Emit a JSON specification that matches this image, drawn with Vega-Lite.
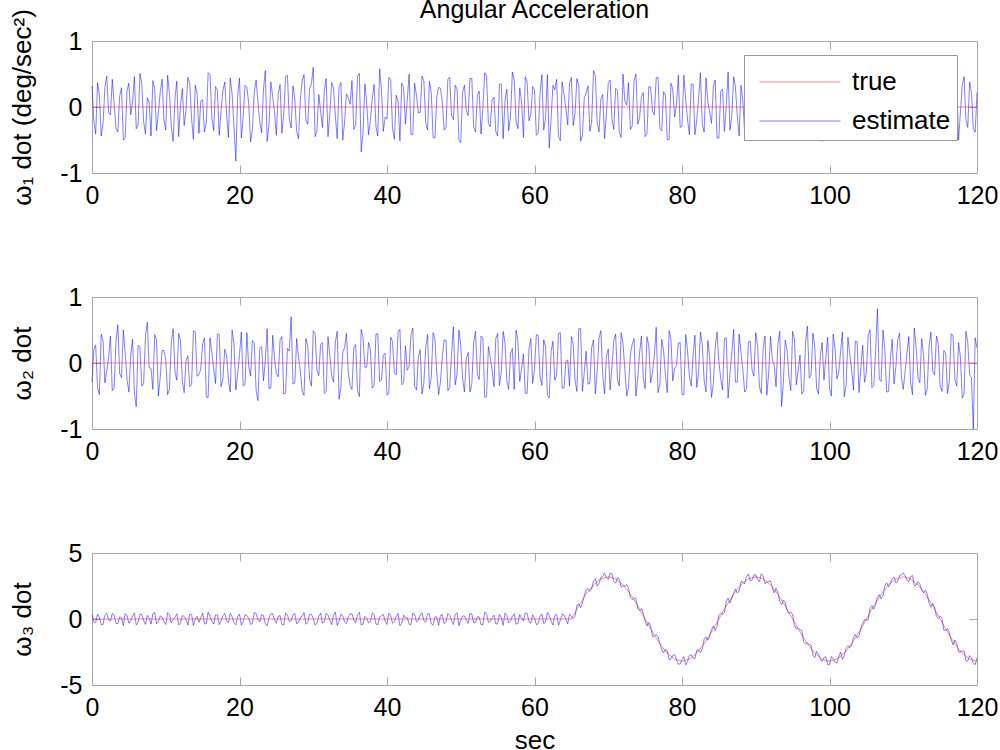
{
  "$schema": "https://vega.github.io/schema/vega-lite/v6.json",
  "padding": {"left": 9, "top": -3, "right": 10, "bottom": 5},
  "background": "white",
  "config": {
    "font": "Liberation Sans",
    "view": {"stroke": "#a8a8a8", "strokeWidth": 1},
    "axis": {
      "grid": false, "domain": false, "tickColor": "#a8a8a8", "tickSize": -8,
      "labelFont": "Liberation Sans", "labelFontSize": 25, "labelColor": "#000000",
      "titleFont": "Liberation Sans", "titleFontSize": 26, "titleFontWeight": "normal", "titleColor": "#000000",
      "labelFlush": false, "labelExpr": "'' + datum.value"
    },
    "axisX": {"labelPadding": 18, "titlePadding": 7},
    "axisY": {"labelPadding": 18, "titlePadding": 24}
  },
  "datasets": {
    "p1": [
      {"t":0,"v":0.32},{"t":0.5,"v":-0.41},{"t":1,"v":0.18},{"t":1.5,"v":-0.25},{"t":2,"v":0.47},{"t":2.5,"v":-0.12},{"t":3,"v":0.05},{"t":3.5,"v":-0.38},{"t":4,"v":0.29},{"t":4.5,"v":-0.47},
      {"t":5,"v":0.36},{"t":5.5,"v":0.08},{"t":6,"v":-0.33},{"t":6.5,"v":0.51},{"t":7,"v":-0.22},{"t":7.5,"v":0.14},{"t":8,"v":-0.44},{"t":8.5,"v":0.27},{"t":9,"v":-0.09},{"t":9.5,"v":0.42},
      {"t":10,"v":-0.35},{"t":10.5,"v":0.21},{"t":11,"v":-0.52},{"t":11.5,"v":0.39},{"t":12,"v":0.02},{"t":12.5,"v":-0.28},{"t":13,"v":0.45},{"t":13.5,"v":-0.17},{"t":14,"v":0.33},{"t":14.5,"v":-0.40},
      {"t":15,"v":0.11},{"t":15.5,"v":-0.24},{"t":16,"v":0.49},{"t":16.5,"v":-0.36},{"t":17,"v":0.26},{"t":17.5,"v":-0.05},{"t":18,"v":0.38},{"t":18.5,"v":-0.46},{"t":19,"v":0.19},{"t":19.5,"v":-0.82},
      {"t":20,"v":0.44},{"t":20.5,"v":-0.15},{"t":21,"v":0.30},{"t":21.5,"v":-0.53},{"t":22,"v":0.23},{"t":22.5,"v":0.07},{"t":23,"v":-0.39},{"t":23.5,"v":0.55},{"t":24,"v":-0.27},{"t":24.5,"v":0.16},
      {"t":25,"v":-0.43},{"t":25.5,"v":0.34},{"t":26,"v":-0.10},{"t":26.5,"v":0.48},{"t":27,"v":-0.32},{"t":27.5,"v":0.12},{"t":28,"v":-0.48},{"t":28.5,"v":0.40},{"t":29,"v":-0.20},{"t":29.5,"v":0.28},
      {"t":30,"v":0.60},{"t":30.5,"v":-0.37},{"t":31,"v":-0.06},{"t":31.5,"v":0.25},{"t":32,"v":-0.45},{"t":32.5,"v":0.37},{"t":33,"v":-0.14},{"t":33.5,"v":0.31},{"t":34,"v":-0.50},{"t":34.5,"v":0.20},
      {"t":35,"v":0.04},{"t":35.5,"v":-0.34},{"t":36,"v":0.46},{"t":36.5,"v":-0.68},{"t":37,"v":0.35},{"t":37.5,"v":-0.42},{"t":38,"v":0.13},{"t":38.5,"v":-0.29},{"t":39,"v":0.58},{"t":39.5,"v":-0.37},
      {"t":40,"v":-0.18},{"t":40.5,"v":0.41},{"t":41,"v":-0.49},{"t":41.5,"v":0.09},{"t":42,"v":0.36},{"t":42.5,"v":-0.26},{"t":43,"v":0.50},{"t":43.5,"v":-0.41},{"t":44,"v":0.17},{"t":44.5,"v":-0.08},
      {"t":45,"v":0.39},{"t":45.5,"v":-0.35},{"t":46,"v":0.22},{"t":46.5,"v":-0.47},{"t":47,"v":0.30},{"t":47.5,"v":0.06},{"t":48,"v":-0.31},{"t":48.5,"v":0.45},{"t":49,"v":-0.19},{"t":49.5,"v":0.27},
      {"t":50,"v":-0.54},{"t":50.5,"v":0.33},{"t":51,"v":-0.13},{"t":51.5,"v":0.43},{"t":52,"v":-0.38},{"t":52.5,"v":0.24},{"t":53,"v":-0.02},{"t":53.5,"v":0.47},{"t":54,"v":-0.30},{"t":54.5,"v":0.15},
      {"t":55,"v":-0.44},{"t":55.5,"v":0.35},{"t":56,"v":0.10},{"t":56.5,"v":-0.36},{"t":57,"v":0.53},{"t":57.5,"v":-0.21},{"t":58,"v":0.29},{"t":58.5,"v":-0.46},{"t":59,"v":0.38},{"t":59.5,"v":-0.11},
      {"t":60,"v":0.26},{"t":60.5,"v":-0.40},{"t":61,"v":0.49},{"t":61.5,"v":-0.16},{"t":62,"v":-0.62},{"t":62.5,"v":0.33},{"t":63,"v":0.42},{"t":63.5,"v":-0.51},{"t":64,"v":0.19},{"t":64.5,"v":-0.27},
      {"t":65,"v":0.45},{"t":65.5,"v":-0.09},{"t":66,"v":0.32},{"t":66.5,"v":-0.43},{"t":67,"v":0.21},{"t":67.5,"v":-0.37},{"t":68,"v":0.55},{"t":68.5,"v":-0.24},{"t":69,"v":0.12},{"t":69.5,"v":-0.48},
      {"t":70,"v":0.37},{"t":70.5,"v":-0.18},{"t":71,"v":0.28},{"t":71.5,"v":-0.39},{"t":72,"v":0.50},{"t":72.5,"v":0.03},{"t":73,"v":-0.34},{"t":73.5,"v":0.40},{"t":74,"v":-0.26},{"t":74.5,"v":0.16},
      {"t":75,"v":-0.45},{"t":75.5,"v":0.31},{"t":76,"v":-0.07},{"t":76.5,"v":0.44},{"t":77,"v":-0.32},{"t":77.5,"v":0.23},{"t":78,"v":-0.50},{"t":78.5,"v":0.36},{"t":79,"v":-0.15},{"t":79.5,"v":0.48},
      {"t":80,"v":-0.29},{"t":80.5,"v":0.11},{"t":81,"v":-0.42},{"t":81.5,"v":0.34},{"t":82,"v":-0.20},{"t":82.5,"v":0.52},{"t":83,"v":-0.38},{"t":83.5,"v":0.08},{"t":84,"v":-0.25},{"t":84.5,"v":0.41},
      {"t":85,"v":-0.47},{"t":85.5,"v":0.27},{"t":86,"v":0.01},{"t":86.5,"v":-0.35},{"t":87,"v":0.46},{"t":87.5,"v":-0.14},{"t":88,"v":0.33},{"t":88.5,"v":-0.41},{"t":89,"v":0.22},{"t":89.5,"v":-0.30},
      {"t":90,"v":0.51},{"t":90.5,"v":-0.23},{"t":91,"v":0.14},{"t":91.5,"v":-0.49},{"t":92,"v":0.39},{"t":92.5,"v":-0.06},{"t":93,"v":0.28},{"t":93.5,"v":-0.44},{"t":94,"v":0.35},{"t":94.5,"v":-0.12},
      {"t":95,"v":0.43},{"t":95.5,"v":-0.36},{"t":96,"v":0.20},{"t":96.5,"v":-0.28},{"t":97,"v":0.72},{"t":97.5,"v":-0.40},{"t":98,"v":0.09},{"t":98.5,"v":0.32},{"t":99,"v":-0.52},{"t":99.5,"v":0.25},
      {"t":100,"v":-0.17},{"t":100.5,"v":0.38},{"t":101,"v":-0.45},{"t":101.5,"v":0.13},{"t":102,"v":0.49},{"t":102.5,"v":-0.31},{"t":103,"v":0.24},{"t":103.5,"v":-0.38},{"t":104,"v":0.05},{"t":104.5,"v":0.42},
      {"t":105,"v":-0.26},{"t":105.5,"v":0.33},{"t":106,"v":-0.48},{"t":106.5,"v":0.18},{"t":107,"v":-0.10},{"t":107.5,"v":0.45},{"t":108,"v":-0.35},{"t":108.5,"v":0.29},{"t":109,"v":-0.43},{"t":109.5,"v":0.21},
      {"t":110,"v":0.36},{"t":110.5,"v":-0.22},{"t":111,"v":0.50},{"t":111.5,"v":-0.37},{"t":112,"v":0.15},{"t":112.5,"v":-0.46},{"t":113,"v":0.31},{"t":113.5,"v":-0.08},{"t":114,"v":0.40},{"t":114.5,"v":-0.29},
      {"t":115,"v":0.19},{"t":115.5,"v":-0.41},{"t":116,"v":0.47},{"t":116.5,"v":-0.14},{"t":117,"v":0.27},{"t":117.5,"v":-0.50},{"t":118,"v":0.34},{"t":118.5,"v":-0.20},{"t":119,"v":0.38},{"t":119.5,"v":-0.33},
      {"t":120,"v":0.22},
      {"t":0.25,"v":-0.21},{"t":0.75,"v":0.37},{"t":1.25,"v":-0.44},{"t":1.75,"v":0.30},{"t":2.25,"v":-0.08},{"t":2.75,"v":0.42},{"t":3.25,"v":-0.33},{"t":3.75,"v":0.16},{"t":4.25,"v":-0.50},{"t":4.75,"v":0.25},
      {"t":5.25,"v":-0.12},{"t":5.75,"v":0.46},{"t":6.25,"v":-0.27},{"t":6.75,"v":0.35},{"t":7.25,"v":-0.41},{"t":7.75,"v":0.07},{"t":8.25,"v":0.40},{"t":8.75,"v":-0.36},{"t":9.25,"v":0.22},{"t":9.75,"v":-0.19},
      {"t":10.25,"v":0.48},{"t":10.75,"v":-0.30},{"t":11.25,"v":0.13},{"t":11.75,"v":-0.45},{"t":12.25,"v":0.28},{"t":12.75,"v":-0.04},{"t":13.25,"v":0.36},{"t":13.75,"v":-0.49},{"t":14.25,"v":0.20},{"t":14.75,"v":0.09},
      {"t":15.25,"v":-0.38},{"t":15.75,"v":0.52},{"t":16.25,"v":-0.16},{"t":16.75,"v":0.31},{"t":17.25,"v":-0.43},{"t":17.75,"v":0.24},{"t":18.25,"v":-0.11},{"t":18.75,"v":0.44},{"t":19.25,"v":-0.29},{"t":19.75,"v":0.17},
      {"t":20.25,"v":-0.47},{"t":20.75,"v":0.33},{"t":21.25,"v":0.05},{"t":21.75,"v":-0.34},{"t":22.25,"v":0.41},{"t":22.75,"v":-0.22},{"t":23.25,"v":0.27},{"t":23.75,"v":-0.52},{"t":24.25,"v":0.38},{"t":24.75,"v":-0.07},
      {"t":25.25,"v":0.21},{"t":25.75,"v":-0.40},{"t":26.25,"v":0.46},{"t":26.75,"v":-0.18},{"t":27.25,"v":0.32},{"t":27.75,"v":-0.37},{"t":28.25,"v":0.12},{"t":28.75,"v":0.49},{"t":29.25,"v":-0.26},{"t":29.75,"v":0.35},
      {"t":30.25,"v":-0.45},{"t":30.75,"v":0.19},{"t":31.25,"v":-0.31},{"t":31.75,"v":0.43},{"t":32.25,"v":-0.10},{"t":32.75,"v":0.29},{"t":33.25,"v":-0.48},{"t":33.75,"v":0.37},{"t":34.25,"v":-0.23},{"t":34.75,"v":0.14},
      {"t":35.25,"v":0.40},{"t":35.75,"v":-0.28},{"t":36.25,"v":0.51},{"t":36.75,"v":-0.39},{"t":37.25,"v":0.06},{"t":37.75,"v":-0.20},{"t":38.25,"v":0.34},{"t":38.75,"v":-0.44},{"t":39.25,"v":0.26},{"t":39.75,"v":-0.15},
      {"t":40.25,"v":0.45},{"t":40.75,"v":-0.32},{"t":41.25,"v":0.18},{"t":41.75,"v":-0.51},{"t":42.25,"v":0.30},{"t":42.75,"v":0.11},{"t":43.25,"v":-0.42},{"t":43.75,"v":0.36},{"t":44.25,"v":-0.09},{"t":44.75,"v":0.47},
      {"t":45.25,"v":-0.24},{"t":45.75,"v":0.39},{"t":46.25,"v":-0.46},{"t":46.75,"v":0.15},{"t":47.25,"v":0.28},{"t":47.75,"v":-0.35},{"t":48.25,"v":0.42},{"t":48.75,"v":-0.13},{"t":49.25,"v":0.33},{"t":49.75,"v":-0.50},
      {"t":50.25,"v":0.23},{"t":50.75,"v":-0.06},{"t":51.25,"v":0.44},{"t":51.75,"v":-0.30},{"t":52.25,"v":0.17},{"t":52.75,"v":-0.41},{"t":53.25,"v":0.52},{"t":53.75,"v":-0.25},{"t":54.25,"v":0.10},{"t":54.75,"v":-0.37},
      {"t":55.25,"v":0.34},{"t":55.75,"v":-0.48},{"t":56.25,"v":0.27},{"t":56.75,"v":-0.14},{"t":57.25,"v":0.40},{"t":57.75,"v":-0.33},{"t":58.25,"v":0.08},{"t":58.75,"v":0.46},{"t":59.25,"v":-0.21},{"t":59.75,"v":0.31},
      {"t":60.25,"v":-0.43},{"t":60.75,"v":0.20},{"t":61.25,"v":-0.35},{"t":61.75,"v":0.49},{"t":62.25,"v":-0.17},{"t":62.75,"v":0.26},{"t":63.25,"v":-0.45},{"t":63.75,"v":0.38},{"t":64.25,"v":-0.02},{"t":64.75,"v":0.35},
      {"t":65.25,"v":-0.28},{"t":65.75,"v":0.43},{"t":66.25,"v":-0.52},{"t":66.75,"v":0.14},{"t":67.25,"v":0.32},{"t":67.75,"v":-0.23},{"t":68.25,"v":0.47},{"t":68.75,"v":-0.38},{"t":69.25,"v":0.19},{"t":69.75,"v":-0.11},
      {"t":70.25,"v":0.41},{"t":70.75,"v":-0.34},{"t":71.25,"v":0.25},{"t":71.75,"v":-0.46},{"t":72.25,"v":0.09},{"t":72.75,"v":0.37},{"t":73.25,"v":-0.29},{"t":73.75,"v":0.50},{"t":74.25,"v":-0.16},{"t":74.75,"v":0.22},
      {"t":75.25,"v":-0.40},{"t":75.75,"v":0.30},{"t":76.25,"v":-0.12},{"t":76.75,"v":0.45},{"t":77.25,"v":-0.36},{"t":77.75,"v":0.18},{"t":78.25,"v":-0.49},{"t":78.75,"v":0.27},{"t":79.25,"v":0.04},{"t":79.75,"v":-0.31},
      {"t":80.25,"v":0.48},{"t":80.75,"v":-0.19},{"t":81.25,"v":0.35},{"t":81.75,"v":-0.42},{"t":82.25,"v":0.13},{"t":82.75,"v":-0.27},{"t":83.25,"v":0.44},{"t":83.75,"v":-0.08},{"t":84.25,"v":0.31},{"t":84.75,"v":-0.47},
      {"t":85.25,"v":0.24},{"t":85.75,"v":-0.37},{"t":86.25,"v":0.53},{"t":86.75,"v":-0.15},{"t":87.25,"v":0.29},{"t":87.75,"v":-0.44},{"t":88.25,"v":0.10},{"t":88.75,"v":0.39},{"t":89.25,"v":-0.33},{"t":89.75,"v":0.20},
      {"t":90.25,"v":-0.26},{"t":90.75,"v":0.46},{"t":91.25,"v":-0.41},{"t":91.75,"v":0.16},{"t":92.25,"v":-0.05},{"t":92.75,"v":0.36},{"t":93.25,"v":-0.48},{"t":93.75,"v":0.28},{"t":94.25,"v":-0.19},{"t":94.75,"v":0.42},
      {"t":95.25,"v":-0.35},{"t":95.75,"v":0.12},{"t":96.25,"v":0.47},{"t":96.75,"v":-0.30},{"t":97.25,"v":0.23},{"t":97.75,"v":-0.45},{"t":98.25,"v":0.38},{"t":98.75,"v":-0.10},{"t":99.25,"v":0.26},{"t":99.75,"v":-0.39},
      {"t":100.25,"v":0.50},{"t":100.75,"v":-0.22},{"t":101.25,"v":0.15},{"t":101.75,"v":-0.47},{"t":102.25,"v":0.34},{"t":102.75,"v":-0.13},{"t":103.25,"v":0.41},{"t":103.75,"v":-0.32},{"t":104.25,"v":0.07},{"t":104.75,"v":0.29},
      {"t":105.25,"v":-0.43},{"t":105.75,"v":0.37},{"t":106.25,"v":-0.18},{"t":106.75,"v":0.25},{"t":107.25,"v":-0.50},{"t":107.75,"v":0.44},{"t":108.25,"v":-0.06},{"t":108.75,"v":0.32},{"t":109.25,"v":-0.36},{"t":109.75,"v":0.21},
      {"t":110.25,"v":0.13},{"t":110.75,"v":-0.40},{"t":111.25,"v":0.48},{"t":111.75,"v":-0.24},{"t":112.25,"v":0.30},{"t":112.75,"v":-0.12},{"t":113.25,"v":0.39},{"t":113.75,"v":-0.47},{"t":114.25,"v":0.18},{"t":114.75,"v":-0.28},
      {"t":115.25,"v":0.43},{"t":115.75,"v":-0.15},{"t":116.25,"v":0.27},{"t":116.75,"v":-0.42},{"t":117.25,"v":0.35},{"t":117.75,"v":-0.09},{"t":118.25,"v":0.46},{"t":118.75,"v":-0.31},{"t":119.25,"v":0.22},{"t":119.75,"v":-0.38}
    ],
    "p2": [
      {"t":0,"v":-0.29},{"t":0.5,"v":0.27},{"t":1,"v":-0.48},{"t":1.5,"v":0.33},{"t":2,"v":-0.12},{"t":2.5,"v":0.41},{"t":3,"v":-0.37},{"t":3.5,"v":0.58},{"t":4,"v":-0.22},{"t":4.5,"v":0.15},
      {"t":5,"v":-0.44},{"t":5.5,"v":0.36},{"t":6,"v":-0.66},{"t":6.5,"v":0.24},{"t":7,"v":-0.31},{"t":7.5,"v":0.62},{"t":8,"v":-0.08},{"t":8.5,"v":0.43},{"t":9,"v":-0.50},{"t":9.5,"v":0.19},
      {"t":10,"v":0.06},{"t":10.5,"v":-0.40},{"t":11,"v":0.52},{"t":11.5,"v":-0.26},{"t":12,"v":0.34},{"t":12.5,"v":-0.45},{"t":13,"v":0.11},{"t":13.5,"v":-0.33},{"t":14,"v":0.47},{"t":14.5,"v":-0.18},
      {"t":15,"v":0.29},{"t":15.5,"v":-0.52},{"t":16,"v":0.38},{"t":16.5,"v":-0.09},{"t":17,"v":0.44},{"t":17.5,"v":-0.36},{"t":18,"v":0.21},{"t":18.5,"v":-0.27},{"t":19,"v":0.50},{"t":19.5,"v":-0.41},
      {"t":20,"v":0.13},{"t":20.5,"v":-0.35},{"t":21,"v":0.46},{"t":21.5,"v":-0.20},{"t":22,"v":0.30},{"t":22.5,"v":-0.57},{"t":23,"v":0.25},{"t":23.5,"v":0.04},{"t":24,"v":-0.39},{"t":24.5,"v":0.42},
      {"t":25,"v":-0.16},{"t":25.5,"v":0.35},{"t":26,"v":-0.47},{"t":26.5,"v":0.22},{"t":27,"v":0.70},{"t":27.5,"v":-0.30},{"t":28,"v":0.09},{"t":28.5,"v":-0.43},{"t":29,"v":0.37},{"t":29.5,"v":-0.24},
      {"t":30,"v":0.49},{"t":30.5,"v":-0.11},{"t":31,"v":0.28},{"t":31.5,"v":-0.46},{"t":32,"v":0.40},{"t":32.5,"v":-0.19},{"t":33,"v":0.32},{"t":33.5,"v":-0.55},{"t":34,"v":0.17},{"t":34.5,"v":0.45},
      {"t":35,"v":-0.34},{"t":35.5,"v":0.23},{"t":36,"v":-0.42},{"t":36.5,"v":0.51},{"t":37,"v":-0.07},{"t":37.5,"v":0.31},{"t":38,"v":-0.38},{"t":38.5,"v":0.44},{"t":39,"v":-0.28},{"t":39.5,"v":0.12},
      {"t":40,"v":-0.49},{"t":40.5,"v":0.39},{"t":41,"v":-0.15},{"t":41.5,"v":0.47},{"t":42,"v":-0.33},{"t":42.5,"v":0.26},{"t":43,"v":-0.05},{"t":43.5,"v":0.53},{"t":44,"v":-0.41},{"t":44.5,"v":0.20},
      {"t":45,"v":-0.30},{"t":45.5,"v":0.43},{"t":46,"v":-0.21},{"t":46.5,"v":0.36},{"t":47,"v":-0.48},{"t":47.5,"v":0.10},{"t":48,"v":0.34},{"t":48.5,"v":-0.37},{"t":49,"v":0.55},{"t":49.5,"v":-0.17},
      {"t":50,"v":0.27},{"t":50.5,"v":-0.44},{"t":51,"v":0.16},{"t":51.5,"v":-0.32},{"t":52,"v":0.48},{"t":52.5,"v":-0.25},{"t":53,"v":0.38},{"t":53.5,"v":-0.51},{"t":54,"v":0.08},{"t":54.5,"v":-0.36},
      {"t":55,"v":0.45},{"t":55.5,"v":-0.13},{"t":56,"v":0.31},{"t":56.5,"v":-0.40},{"t":57,"v":0.22},{"t":57.5,"v":0.50},{"t":58,"v":-0.28},{"t":58.5,"v":0.14},{"t":59,"v":-0.46},{"t":59.5,"v":0.37},
      {"t":60,"v":-0.10},{"t":60.5,"v":0.42},{"t":61,"v":-0.34},{"t":61.5,"v":0.25},{"t":62,"v":-0.53},{"t":62.5,"v":0.33},{"t":63,"v":-0.19},{"t":63.5,"v":0.46},{"t":64,"v":-0.38},{"t":64.5,"v":0.05},
      {"t":65,"v":0.40},{"t":65.5,"v":-0.27},{"t":66,"v":0.52},{"t":66.5,"v":-0.43},{"t":67,"v":0.18},{"t":67.5,"v":-0.31},{"t":68,"v":0.35},{"t":68.5,"v":-0.12},{"t":69,"v":0.49},{"t":69.5,"v":-0.47},
      {"t":70,"v":0.21},{"t":70.5,"v":-0.06},{"t":71,"v":0.44},{"t":71.5,"v":-0.35},{"t":72,"v":0.29},{"t":72.5,"v":-0.50},{"t":73,"v":0.13},{"t":73.5,"v":0.37},{"t":74,"v":-0.23},{"t":74.5,"v":0.41},
      {"t":75,"v":-0.39},{"t":75.5,"v":0.26},{"t":76,"v":-0.14},{"t":76.5,"v":0.54},{"t":77,"v":-0.32},{"t":77.5,"v":0.19},{"t":78,"v":-0.45},{"t":78.5,"v":0.36},{"t":79,"v":-0.08},{"t":79.5,"v":0.30},
      {"t":80,"v":-0.48},{"t":80.5,"v":0.43},{"t":81,"v":-0.20},{"t":81.5,"v":0.11},{"t":82,"v":-0.37},{"t":82.5,"v":0.47},{"t":83,"v":-0.26},{"t":83.5,"v":0.34},{"t":84,"v":-0.52},{"t":84.5,"v":0.24},
      {"t":85,"v":0.02},{"t":85.5,"v":-0.41},{"t":86,"v":0.38},{"t":86.5,"v":-0.17},{"t":87,"v":0.51},{"t":87.5,"v":-0.29},{"t":88,"v":0.15},{"t":88.5,"v":-0.44},{"t":89,"v":0.32},{"t":89.5,"v":-0.11},
      {"t":90,"v":0.46},{"t":90.5,"v":-0.36},{"t":91,"v":0.22},{"t":91.5,"v":-0.49},{"t":92,"v":0.40},{"t":92.5,"v":-0.03},{"t":93,"v":0.28},{"t":93.5,"v":-0.66},{"t":94,"v":0.35},{"t":94.5,"v":-0.21},
      {"t":95,"v":0.48},{"t":95.5,"v":-0.33},{"t":96,"v":0.12},{"t":96.5,"v":-0.42},{"t":97,"v":0.56},{"t":97.5,"v":-0.18},{"t":98,"v":0.25},{"t":98.5,"v":-0.47},{"t":99,"v":0.31},{"t":99.5,"v":0.07},
      {"t":100,"v":-0.38},{"t":100.5,"v":0.44},{"t":101,"v":-0.24},{"t":101.5,"v":0.17},{"t":102,"v":-0.51},{"t":102.5,"v":0.39},{"t":103,"v":-0.10},{"t":103.5,"v":0.33},{"t":104,"v":-0.45},{"t":104.5,"v":0.27},
      {"t":105,"v":-0.15},{"t":105.5,"v":0.50},{"t":106,"v":-0.34},{"t":106.5,"v":0.82},{"t":107,"v":-0.28},{"t":107.5,"v":0.20},{"t":108,"v":-0.43},{"t":108.5,"v":0.36},{"t":109,"v":-0.06},{"t":109.5,"v":0.45},
      {"t":110,"v":-0.40},{"t":110.5,"v":0.14},{"t":111,"v":-0.30},{"t":111.5,"v":0.53},{"t":112,"v":-0.22},{"t":112.5,"v":0.37},{"t":113,"v":-0.49},{"t":113.5,"v":0.26},{"t":114,"v":-0.12},{"t":114.5,"v":0.41},
      {"t":115,"v":-0.35},{"t":115.5,"v":0.19},{"t":116,"v":-0.46},{"t":116.5,"v":0.44},{"t":117,"v":-0.25},{"t":117.5,"v":0.31},{"t":118,"v":-0.53},{"t":118.5,"v":0.48},{"t":119,"v":-0.18},{"t":119.5,"v":-1.00},
      {"t":120,"v":0.23},
      {"t":0.25,"v":0.21},{"t":0.75,"v":-0.37},{"t":1.25,"v":0.44},{"t":1.75,"v":-0.30},{"t":2.25,"v":0.08},{"t":2.75,"v":-0.42},{"t":3.25,"v":0.33},{"t":3.75,"v":-0.16},{"t":4.25,"v":0.50},{"t":4.75,"v":-0.25},
      {"t":5.25,"v":0.12},{"t":5.75,"v":-0.46},{"t":6.25,"v":0.27},{"t":6.75,"v":-0.35},{"t":7.25,"v":0.41},{"t":7.75,"v":-0.07},{"t":8.25,"v":-0.40},{"t":8.75,"v":0.36},{"t":9.25,"v":-0.22},{"t":9.75,"v":0.19},
      {"t":10.25,"v":-0.48},{"t":10.75,"v":0.30},{"t":11.25,"v":-0.13},{"t":11.75,"v":0.45},{"t":12.25,"v":-0.28},{"t":12.75,"v":0.04},{"t":13.25,"v":-0.36},{"t":13.75,"v":0.49},{"t":14.25,"v":-0.20},{"t":14.75,"v":-0.09},
      {"t":15.25,"v":0.38},{"t":15.75,"v":-0.52},{"t":16.25,"v":0.16},{"t":16.75,"v":-0.31},{"t":17.25,"v":0.43},{"t":17.75,"v":-0.24},{"t":18.25,"v":0.11},{"t":18.75,"v":-0.44},{"t":19.25,"v":0.29},{"t":19.75,"v":-0.17},
      {"t":20.25,"v":0.47},{"t":20.75,"v":-0.33},{"t":21.25,"v":-0.05},{"t":21.75,"v":0.34},{"t":22.25,"v":-0.41},{"t":22.75,"v":0.22},{"t":23.25,"v":-0.27},{"t":23.75,"v":0.52},{"t":24.25,"v":-0.38},{"t":24.75,"v":0.07},
      {"t":25.25,"v":-0.21},{"t":25.75,"v":0.40},{"t":26.25,"v":-0.46},{"t":26.75,"v":0.18},{"t":27.25,"v":-0.32},{"t":27.75,"v":0.37},{"t":28.25,"v":-0.12},{"t":28.75,"v":-0.49},{"t":29.25,"v":0.26},{"t":29.75,"v":-0.35},
      {"t":30.25,"v":0.45},{"t":30.75,"v":-0.19},{"t":31.25,"v":0.31},{"t":31.75,"v":-0.43},{"t":32.25,"v":0.10},{"t":32.75,"v":-0.29},{"t":33.25,"v":0.48},{"t":33.75,"v":-0.37},{"t":34.25,"v":0.23},{"t":34.75,"v":-0.14},
      {"t":35.25,"v":-0.40},{"t":35.75,"v":0.28},{"t":36.25,"v":-0.51},{"t":36.75,"v":0.39},{"t":37.25,"v":-0.06},{"t":37.75,"v":0.20},{"t":38.25,"v":-0.34},{"t":38.75,"v":0.44},{"t":39.25,"v":-0.26},{"t":39.75,"v":0.15},
      {"t":40.25,"v":-0.45},{"t":40.75,"v":0.32},{"t":41.25,"v":-0.18},{"t":41.75,"v":0.51},{"t":42.25,"v":-0.30},{"t":42.75,"v":-0.11},{"t":43.25,"v":0.42},{"t":43.75,"v":-0.36},{"t":44.25,"v":0.09},{"t":44.75,"v":-0.47},
      {"t":45.25,"v":0.24},{"t":45.75,"v":-0.39},{"t":46.25,"v":0.46},{"t":46.75,"v":-0.15},{"t":47.25,"v":-0.28},{"t":47.75,"v":0.35},{"t":48.25,"v":-0.42},{"t":48.75,"v":0.13},{"t":49.25,"v":-0.33},{"t":49.75,"v":0.50},
      {"t":50.25,"v":-0.23},{"t":50.75,"v":0.06},{"t":51.25,"v":-0.44},{"t":51.75,"v":0.30},{"t":52.25,"v":-0.17},{"t":52.75,"v":0.41},{"t":53.25,"v":-0.52},{"t":53.75,"v":0.25},{"t":54.25,"v":-0.10},{"t":54.75,"v":0.37},
      {"t":55.25,"v":-0.34},{"t":55.75,"v":0.48},{"t":56.25,"v":-0.27},{"t":56.75,"v":0.14},{"t":57.25,"v":-0.40},{"t":57.75,"v":0.33},{"t":58.25,"v":-0.08},{"t":58.75,"v":-0.46},{"t":59.25,"v":0.21},{"t":59.75,"v":-0.31},
      {"t":60.25,"v":0.43},{"t":60.75,"v":-0.20},{"t":61.25,"v":0.35},{"t":61.75,"v":-0.49},{"t":62.25,"v":0.17},{"t":62.75,"v":-0.26},{"t":63.25,"v":0.45},{"t":63.75,"v":-0.38},{"t":64.25,"v":0.02},{"t":64.75,"v":-0.35},
      {"t":65.25,"v":0.28},{"t":65.75,"v":-0.43},{"t":66.25,"v":0.52},{"t":66.75,"v":-0.14},{"t":67.25,"v":-0.32},{"t":67.75,"v":0.23},{"t":68.25,"v":-0.47},{"t":68.75,"v":0.38},{"t":69.25,"v":-0.19},{"t":69.75,"v":0.11},
      {"t":70.25,"v":-0.41},{"t":70.75,"v":0.34},{"t":71.25,"v":-0.25},{"t":71.75,"v":0.46},{"t":72.25,"v":-0.09},{"t":72.75,"v":-0.37},{"t":73.25,"v":0.29},{"t":73.75,"v":-0.50},{"t":74.25,"v":0.16},{"t":74.75,"v":-0.22},
      {"t":75.25,"v":0.40},{"t":75.75,"v":-0.30},{"t":76.25,"v":0.12},{"t":76.75,"v":-0.45},{"t":77.25,"v":0.36},{"t":77.75,"v":-0.18},{"t":78.25,"v":0.49},{"t":78.75,"v":-0.27},{"t":79.25,"v":-0.04},{"t":79.75,"v":0.31},
      {"t":80.25,"v":-0.48},{"t":80.75,"v":0.19},{"t":81.25,"v":-0.35},{"t":81.75,"v":0.42},{"t":82.25,"v":-0.13},{"t":82.75,"v":0.27},{"t":83.25,"v":-0.44},{"t":83.75,"v":0.08},{"t":84.25,"v":-0.31},{"t":84.75,"v":0.47},
      {"t":85.25,"v":-0.24},{"t":85.75,"v":0.37},{"t":86.25,"v":-0.53},{"t":86.75,"v":0.15},{"t":87.25,"v":-0.29},{"t":87.75,"v":0.44},{"t":88.25,"v":-0.10},{"t":88.75,"v":-0.39},{"t":89.25,"v":0.33},{"t":89.75,"v":-0.20},
      {"t":90.25,"v":0.26},{"t":90.75,"v":-0.46},{"t":91.25,"v":0.41},{"t":91.75,"v":-0.16},{"t":92.25,"v":0.05},{"t":92.75,"v":-0.36},{"t":93.25,"v":0.48},{"t":93.75,"v":-0.28},{"t":94.25,"v":0.19},{"t":94.75,"v":-0.42},
      {"t":95.25,"v":0.35},{"t":95.75,"v":-0.12},{"t":96.25,"v":-0.47},{"t":96.75,"v":0.30},{"t":97.25,"v":-0.23},{"t":97.75,"v":0.45},{"t":98.25,"v":-0.38},{"t":98.75,"v":0.10},{"t":99.25,"v":-0.26},{"t":99.75,"v":0.39},
      {"t":100.25,"v":-0.50},{"t":100.75,"v":0.22},{"t":101.25,"v":-0.15},{"t":101.75,"v":0.47},{"t":102.25,"v":-0.34},{"t":102.75,"v":0.13},{"t":103.25,"v":-0.41},{"t":103.75,"v":0.32},{"t":104.25,"v":-0.07},{"t":104.75,"v":-0.29},
      {"t":105.25,"v":0.43},{"t":105.75,"v":-0.37},{"t":106.25,"v":0.18},{"t":106.75,"v":-0.25},{"t":107.25,"v":0.50},{"t":107.75,"v":-0.44},{"t":108.25,"v":0.06},{"t":108.75,"v":-0.32},{"t":109.25,"v":0.36},{"t":109.75,"v":-0.21},
      {"t":110.25,"v":-0.13},{"t":110.75,"v":0.40},{"t":111.25,"v":-0.48},{"t":111.75,"v":0.24},{"t":112.25,"v":-0.30},{"t":112.75,"v":0.12},{"t":113.25,"v":-0.39},{"t":113.75,"v":0.47},{"t":114.25,"v":-0.18},{"t":114.75,"v":0.28},
      {"t":115.25,"v":-0.43},{"t":115.75,"v":0.15},{"t":116.25,"v":-0.27},{"t":116.75,"v":0.42},{"t":117.25,"v":-0.35},{"t":117.75,"v":0.09},{"t":118.25,"v":-0.46},{"t":118.75,"v":0.31},{"t":119.25,"v":-0.22},{"t":119.75,"v":0.38}
    ],
    "p3": [
      {"t":0,"v":0.35},{"t":0.5,"v":-0.28},{"t":1,"v":0.12},{"t":1.5,"v":-0.40},{"t":2,"v":0.44},{"t":2.5,"v":-0.15},{"t":3,"v":0.30},{"t":3.5,"v":-0.36},{"t":4,"v":0.08},{"t":4.5,"v":0.41},
      {"t":5,"v":-0.32},{"t":5.5,"v":0.22},{"t":6,"v":-0.45},{"t":6.5,"v":0.37},{"t":7,"v":-0.10},{"t":7.5,"v":0.28},{"t":8,"v":-0.38},{"t":8.5,"v":0.50},{"t":9,"v":-0.20},{"t":9.5,"v":0.14},
      {"t":10,"v":-0.42},{"t":10.5,"v":0.33},{"t":11,"v":-0.06},{"t":11.5,"v":0.40},{"t":12,"v":-0.30},{"t":12.5,"v":0.18},{"t":13,"v":-0.47},{"t":13.5,"v":0.36},{"t":14,"v":0.02},{"t":14.5,"v":-0.25},
      {"t":15,"v":0.45},{"t":15.5,"v":-0.34},{"t":16,"v":0.21},{"t":16.5,"v":-0.39},{"t":17,"v":0.31},{"t":17.5,"v":-0.12},{"t":18,"v":0.43},{"t":18.5,"v":-0.29},{"t":19,"v":0.16},{"t":19.5,"v":-0.44},
      {"t":20,"v":0.38},{"t":20.5,"v":-0.19},{"t":21,"v":0.27},{"t":21.5,"v":-0.41},{"t":22,"v":0.49},{"t":22.5,"v":-0.08},{"t":23,"v":0.34},{"t":23.5,"v":-0.37},{"t":24,"v":0.11},{"t":24.5,"v":0.40},
      {"t":25,"v":-0.33},{"t":25.5,"v":0.25},{"t":26,"v":-0.46},{"t":26.5,"v":0.30},{"t":27,"v":-0.14},{"t":27.5,"v":0.42},{"t":28,"v":-0.27},{"t":28.5,"v":0.19},{"t":29,"v":-0.40},{"t":29.5,"v":0.36},
      {"t":30,"v":0.05},{"t":30.5,"v":-0.31},{"t":31,"v":0.44},{"t":31.5,"v":-0.22},{"t":32,"v":0.29},{"t":32.5,"v":-0.43},{"t":33,"v":0.52},{"t":33.5,"v":-0.17},{"t":34,"v":0.24},{"t":34.5,"v":-0.35},
      {"t":35,"v":0.39},{"t":35.5,"v":-0.10},{"t":36,"v":0.32},{"t":36.5,"v":-0.45},{"t":37,"v":0.20},{"t":37.5,"v":-0.28},{"t":38,"v":0.47},{"t":38.5,"v":-0.38},{"t":39,"v":0.13},{"t":39.5,"v":0.35},
      {"t":40,"v":-0.41},{"t":40.5,"v":0.26},{"t":41,"v":-0.18},{"t":41.5,"v":0.43},{"t":42,"v":-0.33},{"t":42.5,"v":0.09},{"t":43,"v":-0.39},{"t":43.5,"v":0.46},{"t":44,"v":-0.24},{"t":44.5,"v":0.31},
      {"t":45,"v":-0.12},{"t":45.5,"v":0.40},{"t":46,"v":-0.36},{"t":46.5,"v":0.17},{"t":47,"v":-0.47},{"t":47.5,"v":0.34},{"t":48,"v":-0.21},{"t":48.5,"v":0.28},{"t":49,"v":-0.42},{"t":49.5,"v":0.48},
      {"t":50,"v":-0.07},{"t":50.5,"v":0.23},{"t":51,"v":-0.34},{"t":51.5,"v":0.38},{"t":52,"v":-0.26},{"t":52.5,"v":0.15},{"t":53,"v":-0.44},{"t":53.5,"v":0.41},{"t":54,"v":-0.19},{"t":54.5,"v":0.30},
      {"t":55,"v":-0.37},{"t":55.5,"v":0.12},{"t":56,"v":0.45},{"t":56.5,"v":-0.30},{"t":57,"v":0.21},{"t":57.5,"v":-0.40},{"t":58,"v":0.33},{"t":58.5,"v":-0.16},{"t":59,"v":0.42},{"t":59.5,"v":-0.29},
      {"t":60,"v":0.08},{"t":60.5,"v":-0.35},{"t":61,"v":0.39},{"t":61.5,"v":-0.23},{"t":62,"v":0.27},{"t":62.5,"v":-0.46},{"t":63,"v":0.36},{"t":63.5,"v":-0.11},{"t":64,"v":0.30},{"t":64.5,"v":-0.38},
      {"t":65,"v":0.22},{"t":65.5,"v":0.20},{"t":66,"v":1.14},{"t":66.5,"v":1.20},{"t":67,"v":2.21},{"t":67.5,"v":2.14},{"t":68,"v":2.87},{"t":68.5,"v":2.50},{"t":69,"v":3.14},{"t":69.5,"v":3.47},
      {"t":70,"v":3.00},{"t":70.5,"v":3.42},{"t":71,"v":2.71},{"t":71.5,"v":3.03},{"t":72,"v":2.51},{"t":72.5,"v":2.60},{"t":73,"v":1.61},{"t":73.5,"v":1.58},{"t":74,"v":0.77},{"t":74.5,"v":0.80},
      {"t":75,"v":-0.15},{"t":75.5,"v":-0.26},{"t":76,"v":-1.35},{"t":76.5,"v":-1.16},{"t":77,"v":-1.84},{"t":77.5,"v":-2.57},{"t":78,"v":-2.39},{"t":78.5,"v":-3.03},{"t":79,"v":-2.69},{"t":79.5,"v":-3.42},
      {"t":80,"v":-3.08},{"t":80.5,"v":-3.48},{"t":81,"v":-2.77},{"t":81.5,"v":-2.95},{"t":82,"v":-2.36},{"t":82.5,"v":-2.55},{"t":83,"v":-1.54},{"t":83.5,"v":-1.61},{"t":84,"v":-0.80},{"t":84.5,"v":-0.87},
      {"t":85,"v":0.28},{"t":85.5,"v":0.36},{"t":86,"v":1.31},{"t":86.5,"v":1.21},{"t":87,"v":1.97},{"t":87.5,"v":1.96},{"t":88,"v":2.84},{"t":88.5,"v":2.66},{"t":89,"v":3.40},{"t":89.5,"v":2.95},
      {"t":90,"v":3.36},{"t":90.5,"v":2.83},{"t":91,"v":3.25},{"t":91.5,"v":2.79},{"t":92,"v":2.89},{"t":92.5,"v":1.98},{"t":93,"v":2.02},{"t":93.5,"v":1.10},{"t":94,"v":1.25},{"t":94.5,"v":0.39},
      {"t":95,"v":0.33},{"t":95.5,"v":-0.73},{"t":96,"v":-0.81},{"t":96.5,"v":-1.75},{"t":97,"v":-1.81},{"t":97.5,"v":-1.99},{"t":98,"v":-2.93},{"t":98.5,"v":-2.63},{"t":99,"v":-3.21},{"t":99.5,"v":-2.85},
      {"t":100,"v":-3.46},{"t":100.5,"v":-3.05},{"t":101,"v":-3.33},{"t":101.5,"v":-2.50},{"t":102,"v":-2.79},{"t":102.5,"v":-2.02},{"t":103,"v":-2.01},{"t":103.5,"v":-1.16},{"t":104,"v":-1.31},{"t":104.5,"v":-0.33},
      {"t":105,"v":-0.09},{"t":105.5,"v":0.84},{"t":106,"v":0.74},{"t":106.5,"v":1.65},{"t":107,"v":1.52},{"t":107.5,"v":2.54},{"t":108,"v":2.44},{"t":108.5,"v":3.08},{"t":109,"v":2.73},{"t":109.5,"v":3.29},
      {"t":110,"v":3.50},{"t":110.5,"v":2.94},{"t":111,"v":3.20},{"t":111.5,"v":2.51},{"t":112,"v":2.84},{"t":112.5,"v":2.18},{"t":113,"v":2.20},{"t":113.5,"v":1.18},{"t":114,"v":1.18},{"t":114.5,"v":0.20},
      {"t":115,"v":0.21},{"t":115.5,"v":-0.85},{"t":116,"v":-0.73},{"t":116.5,"v":-1.57},{"t":117,"v":-1.59},{"t":117.5,"v":-2.50},{"t":118,"v":-2.44},{"t":118.5,"v":-3.18},{"t":119,"v":-2.77},{"t":119.5,"v":-3.34},
      {"t":120,"v":-2.96},
      {"t":0.25,"v":-0.21},{"t":0.75,"v":0.37},{"t":1.25,"v":-0.44},{"t":1.75,"v":0.30},{"t":2.25,"v":-0.08},{"t":2.75,"v":0.42},{"t":3.25,"v":-0.33},{"t":3.75,"v":0.16},{"t":4.25,"v":-0.50},{"t":4.75,"v":0.25},
      {"t":5.25,"v":-0.12},{"t":5.75,"v":0.46},{"t":6.25,"v":-0.27},{"t":6.75,"v":0.35},{"t":7.25,"v":-0.41},{"t":7.75,"v":0.07},{"t":8.25,"v":0.40},{"t":8.75,"v":-0.36},{"t":9.25,"v":0.22},{"t":9.75,"v":-0.19},
      {"t":10.25,"v":0.48},{"t":10.75,"v":-0.30},{"t":11.25,"v":0.13},{"t":11.75,"v":-0.45},{"t":12.25,"v":0.28},{"t":12.75,"v":-0.04},{"t":13.25,"v":0.36},{"t":13.75,"v":-0.49},{"t":14.25,"v":0.20},{"t":14.75,"v":0.09},
      {"t":15.25,"v":-0.38},{"t":15.75,"v":0.52},{"t":16.25,"v":-0.16},{"t":16.75,"v":0.31},{"t":17.25,"v":-0.43},{"t":17.75,"v":0.24},{"t":18.25,"v":-0.11},{"t":18.75,"v":0.44},{"t":19.25,"v":-0.29},{"t":19.75,"v":0.17},
      {"t":20.25,"v":-0.47},{"t":20.75,"v":0.33},{"t":21.25,"v":0.05},{"t":21.75,"v":-0.34},{"t":22.25,"v":0.41},{"t":22.75,"v":-0.22},{"t":23.25,"v":0.27},{"t":23.75,"v":-0.52},{"t":24.25,"v":0.38},{"t":24.75,"v":-0.07},
      {"t":25.25,"v":0.21},{"t":25.75,"v":-0.40},{"t":26.25,"v":0.46},{"t":26.75,"v":-0.18},{"t":27.25,"v":0.32},{"t":27.75,"v":-0.37},{"t":28.25,"v":0.12},{"t":28.75,"v":0.49},{"t":29.25,"v":-0.26},{"t":29.75,"v":0.35},
      {"t":30.25,"v":-0.45},{"t":30.75,"v":0.19},{"t":31.25,"v":-0.31},{"t":31.75,"v":0.43},{"t":32.25,"v":-0.10},{"t":32.75,"v":0.29},{"t":33.25,"v":-0.48},{"t":33.75,"v":0.37},{"t":34.25,"v":-0.23},{"t":34.75,"v":0.14},
      {"t":35.25,"v":0.40},{"t":35.75,"v":-0.28},{"t":36.25,"v":0.51},{"t":36.75,"v":-0.39},{"t":37.25,"v":0.06},{"t":37.75,"v":-0.20},{"t":38.25,"v":0.34},{"t":38.75,"v":-0.44},{"t":39.25,"v":0.26},{"t":39.75,"v":-0.15},
      {"t":40.25,"v":0.45},{"t":40.75,"v":-0.32},{"t":41.25,"v":0.18},{"t":41.75,"v":-0.51},{"t":42.25,"v":0.30},{"t":42.75,"v":0.11},{"t":43.25,"v":-0.42},{"t":43.75,"v":0.36},{"t":44.25,"v":-0.09},{"t":44.75,"v":0.47},
      {"t":45.25,"v":-0.24},{"t":45.75,"v":0.39},{"t":46.25,"v":-0.46},{"t":46.75,"v":0.15},{"t":47.25,"v":0.28},{"t":47.75,"v":-0.35},{"t":48.25,"v":0.42},{"t":48.75,"v":-0.13},{"t":49.25,"v":0.33},{"t":49.75,"v":-0.50},
      {"t":50.25,"v":0.23},{"t":50.75,"v":-0.06},{"t":51.25,"v":0.44},{"t":51.75,"v":-0.30},{"t":52.25,"v":0.17},{"t":52.75,"v":-0.41},{"t":53.25,"v":0.52},{"t":53.75,"v":-0.25},{"t":54.25,"v":0.10},{"t":54.75,"v":-0.37},
      {"t":55.25,"v":0.34},{"t":55.75,"v":-0.48},{"t":56.25,"v":0.27},{"t":56.75,"v":-0.14},{"t":57.25,"v":0.40},{"t":57.75,"v":-0.33},{"t":58.25,"v":0.08},{"t":58.75,"v":0.46},{"t":59.25,"v":-0.21},{"t":59.75,"v":0.31},
      {"t":60.25,"v":-0.43},{"t":60.75,"v":0.20},{"t":61.25,"v":-0.35},{"t":61.75,"v":0.49},{"t":62.25,"v":-0.17},{"t":62.75,"v":0.26},{"t":63.25,"v":-0.45},{"t":63.75,"v":0.38},{"t":64.25,"v":-0.02},{"t":64.75,"v":0.35},
      {"t":65.25,"v":0.05},{"t":65.75,"v":1.05},{"t":66.25,"v":0.86},{"t":66.75,"v":1.77},{"t":67.25,"v":2.30},{"t":67.75,"v":2.27},{"t":68.25,"v":3.06},{"t":68.75,"v":2.69},{"t":69.25,"v":3.24},{"t":69.75,"v":3.11},
      {"t":70.25,"v":3.48},{"t":70.75,"v":2.87},{"t":71.25,"v":3.14},{"t":71.75,"v":2.41},{"t":72.25,"v":2.49},{"t":72.75,"v":2.34},{"t":73.25,"v":1.47},{"t":73.75,"v":1.57},{"t":74.25,"v":0.64},{"t":74.75,"v":0.40},
      {"t":75.25,"v":-0.53},{"t":75.75,"v":-0.54},{"t":76.25,"v":-1.30},{"t":76.75,"v":-1.35},{"t":77.25,"v":-2.33},{"t":77.75,"v":-2.30},{"t":78.25,"v":-3.07},{"t":78.75,"v":-2.77},{"t":79.25,"v":-3.08},{"t":79.75,"v":-3.41},
      {"t":80.25,"v":-2.85},{"t":80.75,"v":-3.24},{"t":81.25,"v":-2.71},{"t":81.75,"v":-3.02},{"t":82.25,"v":-2.34},{"t":82.75,"v":-2.27},{"t":83.25,"v":-1.36},{"t":83.75,"v":-1.28},{"t":84.25,"v":-0.53},{"t":84.75,"v":-0.58},
      {"t":85.25,"v":0.42},{"t":85.75,"v":0.49},{"t":86.25,"v":1.59},{"t":86.75,"v":1.56},{"t":87.25,"v":2.28},{"t":87.75,"v":2.12},{"t":88.25,"v":2.80},{"t":88.75,"v":3.23},{"t":89.25,"v":2.88},{"t":89.75,"v":3.33},
      {"t":90.25,"v":3.01},{"t":90.75,"v":3.43},{"t":91.25,"v":2.67},{"t":91.75,"v":2.84},{"t":92.25,"v":2.39},{"t":92.75,"v":2.33},{"t":93.25,"v":1.33},{"t":93.75,"v":1.42},{"t":94.25,"v":0.62},{"t":94.75,"v":0.54},
      {"t":95.25,"v":-0.50},{"t":95.75,"v":-0.67},{"t":96.25,"v":-0.89},{"t":96.75,"v":-1.88},{"t":97.25,"v":-1.92},{"t":97.75,"v":-2.75},{"t":98.25,"v":-2.46},{"t":98.75,"v":-3.03},{"t":99.25,"v":-2.93},{"t":99.75,"v":-3.46},
      {"t":100.25,"v":-2.84},{"t":100.75,"v":-3.26},{"t":101.25,"v":-2.85},{"t":101.75,"v":-3.06},{"t":102.25,"v":-2.19},{"t":102.75,"v":-2.17},{"t":103.25,"v":-1.38},{"t":103.75,"v":-1.44},{"t":104.25,"v":-0.70},{"t":104.75,"v":-0.05},
      {"t":105.25,"v":-0.05},{"t":105.75,"v":1.01},{"t":106.25,"v":1.09},{"t":106.75,"v":1.85},{"t":107.25,"v":1.73},{"t":107.75,"v":2.74},{"t":108.25,"v":2.69},{"t":108.75,"v":3.18},{"t":109.25,"v":2.86},{"t":109.75,"v":3.34},
      {"t":110.25,"v":3.28},{"t":110.75,"v":2.83},{"t":111.25,"v":3.30},{"t":111.75,"v":2.56},{"t":112.25,"v":2.64},{"t":112.75,"v":2.00},{"t":113.25,"v":1.94},{"t":113.75,"v":0.89},{"t":114.25,"v":0.88},{"t":114.75,"v":0.05},
      {"t":115.25,"v":0.05},{"t":115.75,"v":-0.86},{"t":116.25,"v":-1.03},{"t":116.75,"v":-1.96},{"t":117.25,"v":-1.83},{"t":117.75,"v":-2.49},{"t":118.25,"v":-2.41},{"t":118.75,"v":-3.18},{"t":119.25,"v":-2.96},{"t":119.75,"v":-3.46}
    ],
    "t12": [{"t":0,"v":0},{"t":120,"v":0}],
    "t3": [
      {"t":0,"v":0},{"t":65,"v":0},{"t":66,"v":0.99},{"t":67,"v":1.88},{"t":68,"v":2.59},{"t":69,"v":3.04},{"t":70,"v":3.2},{"t":71,"v":3.04},{"t":72,"v":2.59},{"t":73,"v":1.88},{"t":74,"v":0.99},
      {"t":75,"v":0},{"t":76,"v":-0.99},{"t":77,"v":-1.88},{"t":78,"v":-2.59},{"t":79,"v":-3.04},{"t":80,"v":-3.2},{"t":81,"v":-3.04},{"t":82,"v":-2.59},{"t":83,"v":-1.88},{"t":84,"v":-0.99},
      {"t":85,"v":0},{"t":86,"v":0.99},{"t":87,"v":1.88},{"t":88,"v":2.59},{"t":89,"v":3.04},{"t":90,"v":3.2},{"t":91,"v":3.04},{"t":92,"v":2.59},{"t":93,"v":1.88},{"t":94,"v":0.99},
      {"t":95,"v":0},{"t":96,"v":-0.99},{"t":97,"v":-1.88},{"t":98,"v":-2.59},{"t":99,"v":-3.04},{"t":100,"v":-3.2},{"t":101,"v":-3.04},{"t":102,"v":-2.59},{"t":103,"v":-1.88},{"t":104,"v":-0.99},
      {"t":105,"v":0},{"t":106,"v":0.99},{"t":107,"v":1.88},{"t":108,"v":2.59},{"t":109,"v":3.04},{"t":110,"v":3.2},{"t":111,"v":3.04},{"t":112,"v":2.59},{"t":113,"v":1.88},{"t":114,"v":0.99},
      {"t":115,"v":0},{"t":116,"v":-0.99},{"t":117,"v":-1.88},{"t":118,"v":-2.59},{"t":119,"v":-3.04},{"t":120,"v":-3.2}
    ]
  },
  "vconcat": [
    {
      "width": 885,
      "height": 132,
      "title": {"text": "Angular Acceleration", "fontSize": 25, "fontWeight": "normal", "color": "#000000", "anchor": "middle", "frame": "group", "baseline": "alphabetic", "offset": -34},
      "layer": [
        {
          "data": {"name": "p1"},
          "mark": {"type": "line", "strokeWidth": 1, "opacity": 0.5},
          "encoding": {
            "x": {"field": "t", "type": "quantitative", "scale": {"domain": [0, 120], "nice": false, "zero": false}, "axis": {"values": [0, 20, 40, 60, 80, 100, 120], "title": null}},
            "y": {"field": "v", "type": "quantitative", "scale": {"domain": [-1, 1], "nice": false}, "axis": {"values": [-1, 0, 1], "title": "ω₁ dot (deg/sec²)"}},
            "color": {
              "datum": "estimate",
              "scale": {"domain": ["true", "estimate"], "range": ["#ff0000", "#0000ff"]},
              "legend": {"orient": "none", "legendX": 652, "legendY": 14, "title": null, "symbolType": "M-2,0L2,0", "symbolSize": 1640, "symbolOffset": 29, "symbolStrokeWidth": 1, "labelFontSize": 26, "labelColor": "#000000", "labelOffset": 31, "fillColor": "#ffffff", "strokeColor": "#999999", "padding": 6, "rowPadding": 5}
            }
          }
        },
        {
          "data": {"name": "t12"},
          "mark": {"type": "line", "strokeWidth": 0.6, "opacity": 0.8},
          "encoding": {
            "x": {"field": "t", "type": "quantitative", "axis": {"orient": "top", "values": [0, 20, 40, 60, 80, 100, 120], "labels": false, "title": null}},
            "y": {"field": "v", "type": "quantitative", "axis": {"orient": "right", "values": [-1, 0, 1], "labels": false, "title": null}},
            "color": {"datum": "true"}
          }
        }
      ],
      "resolve": {"axis": {"x": "independent", "y": "independent"}}
    },
    {
      "width": 885,
      "height": 132,
      "layer": [
        {
          "data": {"name": "p2"},
          "mark": {"type": "line", "strokeWidth": 1, "opacity": 0.5},
          "encoding": {
            "x": {"field": "t", "type": "quantitative", "scale": {"domain": [0, 120], "nice": false, "zero": false}, "axis": {"values": [0, 20, 40, 60, 80, 100, 120], "title": null}},
            "y": {"field": "v", "type": "quantitative", "scale": {"domain": [-1, 1], "nice": false}, "axis": {"values": [-1, 0, 1], "title": "ω₂ dot"}},
            "color": {"datum": "estimate", "scale": {"domain": ["true", "estimate"], "range": ["#ff0000", "#0000ff"]}, "legend": null}
          }
        },
        {
          "data": {"name": "t12"},
          "mark": {"type": "line", "strokeWidth": 0.6, "opacity": 0.8},
          "encoding": {
            "x": {"field": "t", "type": "quantitative", "axis": {"orient": "top", "values": [0, 20, 40, 60, 80, 100, 120], "labels": false, "title": null}},
            "y": {"field": "v", "type": "quantitative", "axis": {"orient": "right", "values": [-1, 0, 1], "labels": false, "title": null}},
            "color": {"datum": "true"}
          }
        }
      ],
      "resolve": {"axis": {"x": "independent", "y": "independent"}}
    },
    {
      "width": 885,
      "height": 132,
      "layer": [
        {
          "data": {"name": "p3"},
          "mark": {"type": "line", "strokeWidth": 1, "opacity": 0.5},
          "encoding": {
            "x": {"field": "t", "type": "quantitative", "scale": {"domain": [0, 120], "nice": false, "zero": false}, "axis": {"values": [0, 20, 40, 60, 80, 100, 120], "title": "sec"}},
            "y": {"field": "v", "type": "quantitative", "scale": {"domain": [-5, 5], "nice": false}, "axis": {"values": [-5, 0, 5], "title": "ω₃ dot"}},
            "color": {"datum": "estimate", "scale": {"domain": ["true", "estimate"], "range": ["#ff0000", "#0000ff"]}, "legend": null}
          }
        },
        {
          "data": {"name": "t3"},
          "mark": {"type": "line", "strokeWidth": 0.6, "opacity": 0.8},
          "encoding": {
            "x": {"field": "t", "type": "quantitative", "axis": {"orient": "top", "values": [0, 20, 40, 60, 80, 100, 120], "labels": false, "title": null}},
            "y": {"field": "v", "type": "quantitative", "axis": {"orient": "right", "values": [-5, 0, 5], "labels": false, "title": null}},
            "color": {"datum": "true"}
          }
        }
      ],
      "resolve": {"axis": {"x": "independent", "y": "independent"}}
    }
  ],
  "spacing": 124,
  "bounds": "flush",
  "resolve": {"scale": {"color": "independent"}, "legend": {"color": "independent"}}
}
